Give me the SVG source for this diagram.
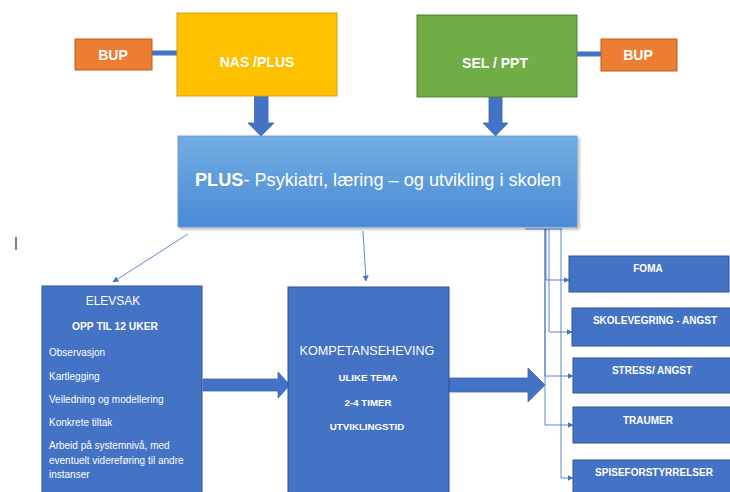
<svg xmlns="http://www.w3.org/2000/svg" width="730" height="492" viewBox="0 0 730 492">
<defs>
<linearGradient id="plusGrad" x1="0" y1="0" x2="0" y2="1">
<stop offset="0" stop-color="#73ADE3"/>
<stop offset="1" stop-color="#4A8AD4"/>
</linearGradient>
<filter id="shadow" x="-5%" y="-10%" width="115%" height="130%">
<feDropShadow dx="2" dy="2" stdDeviation="1.5" flood-color="#000" flood-opacity="0.3"/>
</filter>
<marker id="ah" markerWidth="6" markerHeight="6" refX="5.5" refY="3" orient="auto" markerUnits="userSpaceOnUse">
<path d="M0,0 L6,3 L0,6 z" fill="#4472C4"/>
</marker>
</defs>
<style>
text{font-family:"Liberation Sans",Arial,sans-serif;fill:#fff;}
.b{font-weight:bold}
.box{fill:#4472C4;stroke:#2F528F;stroke-width:1}
.orange{fill:#ED7D31;stroke:#B85E22;stroke-width:1}
.thin{fill:none;stroke:#4472C4;stroke-width:1;stroke-opacity:0.85}
.big{fill:#4472C4;stroke:#3A64AE;stroke-width:0.8}
.bar{fill:#4472C4}
</style>
<rect width="730" height="492" fill="#fff"/>

<g id="connectors">
<rect class="bar" x="152" y="50.5" width="25" height="5"/>
<rect class="bar" x="577" y="51.5" width="24" height="5"/>
<polygon class="big" points="254.5,96 268,96 268,123 274,123 261,136 248,123 254.5,123"/>
<polygon class="big" points="489,97 502,97 502,123 508,123 495.5,136 483,123 489,123"/>
<line class="thin" x1="188" y1="234" x2="113" y2="282" marker-end="url(#ah)"/>
<line class="thin" x1="363" y1="231" x2="366" y2="281" marker-end="url(#ah)"/>
<polygon class="big" points="203,379 278,379 278,372 290,385 278,398 278,391 203,391"/>
<polygon class="big" points="449,378 528,378 528,368 545,385 528,402 528,392 449,392"/>
<line class="thin" x1="525" y1="229" x2="562" y2="229"/>
<path class="thin" d="M546,229 V280 H569" marker-end="url(#ah)"/>
<path class="thin" d="M549,229 V332 H572" marker-end="url(#ah)"/>
<path class="thin" d="M545,229 V376 H573" marker-end="url(#ah)"/>
<path class="thin" d="M545,229 V425 H573" marker-end="url(#ah)"/>
<path class="thin" d="M561,229 V478 H573" marker-end="url(#ah)"/>
</g>

<g id="bup-left">
<rect class="orange" x="75" y="39" width="77" height="31"/>
<text class="b" x="113" y="60" font-size="14" text-anchor="middle">BUP</text>
</g>

<g id="nas-plus">
<rect x="177" y="13" width="160" height="83" fill="#FFC000" stroke="#C9A21A" stroke-width="1"/>
<text class="b" x="257" y="67" font-size="14" text-anchor="middle">NAS /PLUS</text>
</g>

<g id="sel-ppt">
<rect x="417" y="15" width="160" height="82" fill="#70AD47" stroke="#507E32" stroke-width="1"/>
<text class="b" x="495" y="68" font-size="14" text-anchor="middle">SEL / PPT</text>
</g>

<g id="bup-right">
<rect class="orange" x="601" y="39" width="76" height="32"/>
<text class="b" x="638" y="60" font-size="14" text-anchor="middle">BUP</text>
</g>

<g id="plus">
<rect x="178" y="136" width="399" height="91" fill="url(#plusGrad)" stroke="#5B9BD5" stroke-width="0.8" filter="url(#shadow)"/>
<text x="195" y="186" font-size="19" textLength="366" lengthAdjust="spacingAndGlyphs"><tspan class="b">PLUS</tspan>- Psykiatri, læring – og utvikling i skolen</text>
</g>

<g id="elevsak">
<rect class="box" x="42" y="286" width="160" height="210"/>
<text x="113" y="305" font-size="12" text-anchor="middle">ELEVSAK</text>
<text class="b" x="115" y="330" font-size="10.3" text-anchor="middle">OPP TIL 12 UKER</text>
<text x="49" y="356" font-size="10">Observasjon</text>
<text x="49" y="380" font-size="10">Kartlegging</text>
<text x="49" y="403" font-size="10">Veiledning og modellering</text>
<text x="49" y="426" font-size="10">Konkrete tiltak</text>
<text x="49" y="449" font-size="10">Arbeid på systemnivå, med</text>
<text x="49" y="464" font-size="10">eventuelt videreføring til andre</text>
<text x="49" y="478" font-size="10">instanser</text>
</g>

<g id="kompetanse">
<rect class="box" x="288" y="287" width="161" height="210"/>
<text x="367" y="355" font-size="12.6" text-anchor="middle">KOMPETANSEHEVING</text>
<text class="b" x="368" y="381" font-size="9.7" text-anchor="middle">ULIKE TEMA</text>
<text class="b" x="368" y="406" font-size="9.7" text-anchor="middle">2-4 TIMER</text>
<text class="b" x="367" y="430" font-size="9.7" text-anchor="middle">UTVIKLINGSTID</text>
</g>

<g id="foma">
<rect class="box" x="569" y="256" width="160" height="36"/>
<text class="b" x="648" y="272" font-size="10" text-anchor="middle">FOMA</text>
</g>

<g id="skolevegring">
<rect class="box" x="572" y="308" width="160" height="38"/>
<text class="b" x="655" y="324" font-size="10" text-anchor="middle">SKOLEVEGRING - ANGST</text>
</g>

<g id="stress">
<rect class="box" x="573" y="358" width="160" height="35"/>
<text class="b" x="652" y="374" font-size="10" text-anchor="middle">STRESS/ ANGST</text>
</g>

<g id="traumer">
<rect class="box" x="573" y="407" width="160" height="36"/>
<text class="b" x="648" y="424" font-size="10" text-anchor="middle">TRAUMER</text>
</g>

<g id="spise">
<rect class="box" x="573" y="460" width="160" height="40"/>
<text class="b" x="654" y="476" font-size="10" text-anchor="middle">SPISEFORSTYRRELSER</text>
</g>

<line x1="16" y1="237" x2="16" y2="250" stroke="#000" stroke-width="1"/>
</svg>
